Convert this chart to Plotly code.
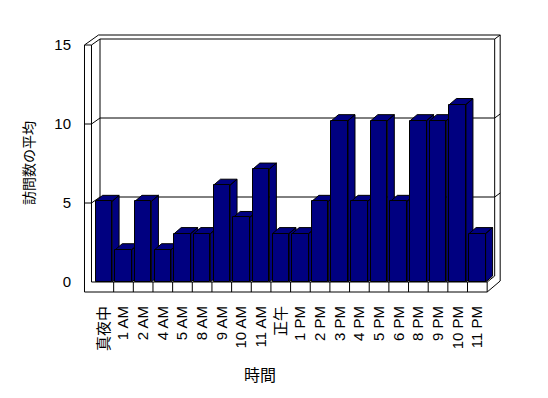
import plotly.graph_objects as go

categories = ['真夜中', '1 AM', '2 AM', '4 AM', '5 AM', '8 AM', '9 AM', '10 AM', '11 AM', '正午',
              '1 PM', '2 PM', '3 PM', '4 PM', '5 PM', '6 PM', '8 PM', '9 PM', '10 PM', '11 PM']
visits = [5, 2, 5, 2, 3, 3, 6, 4, 7, 3, 3, 5, 10, 5, 10, 5, 10, 10, 11, 3]
y_ticks = [0, 5, 10, 15]
x_title = '時間'
y_title = '訪問数の平均'

NAVY = '#000080'
FW, FH = 548, 398
L, B_PX = 94, 282          # plot-area left / bottom in pixels
XR = [-0.5, 20.0]
CAT_PX = 19.65
W = CAT_PX * (XR[1] - XR[0])
T = 40
H = B_PX - T
YR = [0, 15]
UNIT_PX = H / (YR[1] - YR[0])
FRONT_UNIT = 15.8            # scale of the front (wall) axis
Y3R = [0, H / FRONT_UNIT]

BW = 0.84
DX = 7 / CAT_PX
DY = 6 / UNIT_PX


def P(px, py):
    return (px - L) / W, (B_PX - py) / H


idx = list(range(len(categories)))
fig = go.Figure()

# side and top faces, in left-to-right order
for i, v in zip(idx, visits):
    l, r = i - BW / 2, i + BW / 2
    xs = [r, r, r + DX, r + DX, r, None, l, r, r + DX, l + DX, l]
    ys = [0, v, v + DY, DY, 0, None, v, v, v + DY, v + DY, v]
    fig.add_trace(go.Scatter(x=xs, y=ys, mode='lines', fill='toself', fillcolor=NAVY,
                             line=dict(color='black', width=1), hoverinfo='skip',
                             showlegend=False, xaxis='x', yaxis='y'))

# front faces
fig.add_trace(go.Bar(x=idx, y=visits, width=BW, marker=dict(color=NAVY, line=dict(color='black', width=1)),
                     showlegend=False, xaxis='x2', yaxis='y2'))
# dummy for wall axis labels
fig.add_trace(go.Scatter(x=[None], y=[None], xaxis='x', yaxis='y3', showlegend=False))

shapes = []


def seg(p1, p2):
    a = P(*p1)
    b = P(*p2)
    shapes.append(dict(type='line', xref='paper', yref='paper', x0=a[0], y0=a[1], x1=b[0], y1=b[1],
                       line=dict(color='black', width=1), layer='below'))


# walls frame
seg((84.5, 45), (84.5, 292))
seg((91.5, 45), (91.5, 282))
seg((84.5, 45), (91.5, 45))
seg((84.5, 45), (98.5, 35))
seg((91.5, 45), (100, 39))
seg((98.5, 35), (500, 35))
seg((100, 39), (494.5, 39))
seg((100, 39), (100, 276))
seg((494.5, 39), (494.5, 276))
seg((500, 35), (500, 281))
seg((494.5, 39), (500, 35))
# gridlines
for t in y_ticks[1:-1]:
    yf = B_PX - t * FRONT_UNIT
    yb = yf - 6
    seg((84.5, yf), (91.5, yf))
    seg((91.5, yf), (100, yb))
    seg((100, yb), (494.5, yb))
    seg((494.5, yb), (500, yb - 4))
# floor
seg((84.5, 292), (487, 292))
seg((91.5, 282), (487, 282))
seg((487, 282), (487, 292))
seg((487, 282), (494.5, 276))
seg((487, 292), (500, 281))
# category boundaries on floor front
fy0 = P(0, 282)[1]
fy1 = P(0, 292)[1]
for k in range(1, len(categories)):
    shapes.append(dict(type='line', xref='x', yref='paper', x0=k - 0.5, x1=k - 0.5, y0=fy0, y1=fy1,
                       line=dict(color='black', width=1), layer='below'))

ann = []
ax, ay = P(260, 374)
ann.append(dict(text=x_title, x=ax, y=ay, xref='paper', yref='paper', showarrow=False,
                xanchor='center', yanchor='middle',
                font=dict(size=16, family='Noto Sans CJK JP', color='black')))
ax, ay = P(28, 163)
ann.append(dict(text=y_title, x=ax, y=ay, xref='paper', yref='paper', showarrow=False, textangle=-90,
                xanchor='center', yanchor='middle',
                font=dict(size=14, family='Noto Sans CJK JP', color='black')))

fig.update_layout(
    width=FW, height=FH,
    margin=dict(l=L, r=FW - L - W, t=T, b=FH - B_PX, pad=0),
    paper_bgcolor='white', plot_bgcolor='rgba(0,0,0,0)',
    showlegend=False, bargap=0,
    shapes=shapes, annotations=ann,
    xaxis=dict(range=XR, tickvals=idx, ticktext=categories, tickangle=-90, ticks='outside', ticklen=17,
               tickcolor='rgba(0,0,0,0)', showgrid=False, zeroline=False, showline=False,
               tickfont=dict(size=15, family='Liberation Sans, Noto Sans CJK JP', color='black')),
    yaxis=dict(range=YR, showgrid=False, zeroline=False, showline=False, showticklabels=False, ticks=''),
    xaxis2=dict(range=XR, overlaying='x', visible=False),
    yaxis2=dict(range=YR, overlaying='y', visible=False),
    yaxis3=dict(range=Y3R, overlaying='y', side='left', tickvals=y_ticks, ticks='outside', ticklen=19,
                tickcolor='rgba(0,0,0,0)', showgrid=False, zeroline=False, showline=False,
                tickfont=dict(size=15, family='Liberation Sans', color='black')),
)

fig.write_html('out.html', config={'displayModeBar': False},
               post_script="document.body.style.margin='0';document.body.style.overflow='hidden';")
